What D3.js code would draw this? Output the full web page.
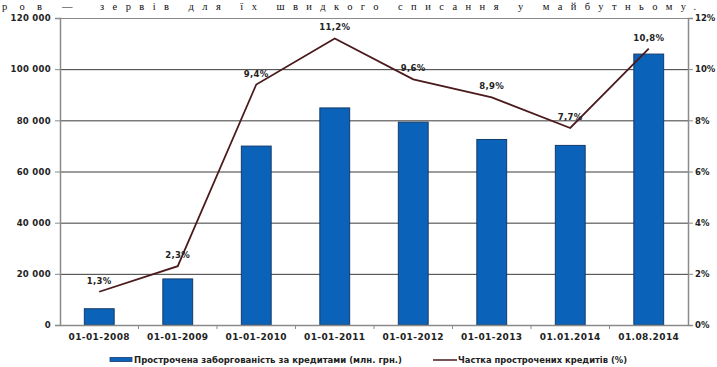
<!DOCTYPE html>
<html><head><meta charset="utf-8">
<script src="https://cdn.jsdelivr.net/npm/d3@7"></script>
<style>
html,body{margin:0;padding:0;background:#fff;}
svg{display:block;}
text{font-family:"DejaVu Sans",Verdana,sans-serif;}
</style></head>
<body>
<svg id="c" width="717" height="367"></svg>
<script>
const categories = ["01-01-2008","01-01-2009","01-01-2010","01-01-2011","01-01-2012","01-01-2013","01.01.2014","01.08.2014"];
const overdueValues = [6357, 18015, 69935, 84851, 79292, 72520, 70199, 105900];
const shareValues = [1.3, 2.3, 9.4, 11.2, 9.6, 8.9, 7.7, 10.8];
const shareLabels = ["1,3%","2,3%","9,4%","11,2%","9,6%","8,9%","7,7%","10,8%"];
const leftTicks = [0, 20000, 40000, 60000, 80000, 100000, 120000];
const rightTicks = [0, 2, 4, 6, 8, 10, 12];
const legendBar = "Прострочена заборгованість за кредитами (млн. грн.)";
const legendLine = "Частка прострочених кредитів (%)";

const svg = d3.select("#c");
const L = 60, R = 688, T = 18, B = 325;

// heading text from the page above the chart
const head = svg.append("g").attr("fill","#111");
head.append("text").attr("x",2).attr("y",10).attr("font-size",10.5).style("font-family","Liberation Serif, serif")
  .attr("textLength",40).attr("lengthAdjust","spacing").text("ров");
head.append("text").attr("x",62).attr("y",10).attr("font-size",10.5).style("font-family","Liberation Serif, serif").text("—");
head.append("text").attr("x",100).attr("y",10).attr("font-size",10.5).style("font-family","Liberation Serif, serif")
  .attr("textLength",596).attr("lengthAdjust","spacing").text("зервів для їх швидкого списання у майбутньому.");

const x = d3.scaleBand().domain(categories).range([L,R]).paddingInner(0.62).paddingOuter(0.31);
const yL = d3.scaleLinear().domain([0,120000]).range([B,T]);
const yR = d3.scaleLinear().domain([0,12]).range([B,T]);

// gridlines
svg.append("g").selectAll("line").data(leftTicks.filter(d=>d>0)).join("line")
  .attr("x1",L).attr("x2",R).attr("y1",d=>yL(d)+0.5).attr("y2",d=>yL(d)+0.5)
  .attr("stroke",d=>d===120000?"#8a8a8a":"#3a3a3a").attr("stroke-width",1);

const fmt = d => d===0 ? "0" : d3.format(",")(d).replace(/,/g," ");

// left axis
const gl = svg.append("g").attr("transform",`translate(${L},0)`)
  .call(d3.axisLeft(yL).tickValues(leftTicks).tickFormat(fmt).tickSize(5).tickPadding(4));
gl.select(".domain").attr("stroke","#8a8a8a").attr("stroke-width",1.5);
gl.selectAll(".tick line").attr("stroke","#8a8a8a");
gl.selectAll(".tick text").attr("font-size",8.5).attr("font-weight","bold").attr("fill","#222").attr("letter-spacing",0.3).style("font-family","DejaVu Sans, sans-serif");

// right axis
const gr = svg.append("g").attr("transform",`translate(${R},0)`)
  .call(d3.axisRight(yR).tickValues(rightTicks).tickFormat(d=>d+"%").tickSize(5).tickPadding(2));
gr.select(".domain").attr("stroke","#8a8a8a").attr("stroke-width",1.5);
gr.selectAll(".tick line").attr("stroke","#8a8a8a");
gr.selectAll(".tick text").attr("font-size",8.5).attr("font-weight","bold").attr("fill","#222").style("font-family","DejaVu Sans, sans-serif");

// bars
svg.append("g").selectAll("rect").data(categories).join("rect")
  .attr("x",d=>x(d)).attr("width",x.bandwidth())
  .attr("y",(d,i)=>yL(overdueValues[i])).attr("height",(d,i)=>B-yL(overdueValues[i]))
  .attr("fill","#0a63b8").attr("stroke","#143a6b").attr("stroke-width",1);

// bottom axis
const step = x.step();
const gb = svg.append("g").attr("transform",`translate(0,${B})`)
  .call(d3.axisBottom(x).tickSize(0).tickPadding(9));
gb.select(".domain").attr("stroke","#8a8a8a").attr("stroke-width",1.5);
gb.selectAll(".tick text").attr("font-size",9).attr("font-weight","bold").attr("fill","#222")
  .attr("letter-spacing",0.4).style("font-family","DejaVu Sans, sans-serif");
// category separators
svg.append("g").selectAll("line").data(categories.slice(1)).join("line")
  .attr("x1",d=>x(d)-(step-x.bandwidth())/2).attr("x2",d=>x(d)-(step-x.bandwidth())/2)
  .attr("y1",B).attr("y2",B+4).attr("stroke","#8a8a8a");

// line
const cx = d => x(d)+x.bandwidth()/2;
const line = d3.line().x((d,i)=>cx(categories[i])).y(d=>yR(d));
svg.append("path").datum(shareValues).attr("d",line)
  .attr("fill","none").attr("stroke","#4a1a1c").attr("stroke-width",1.8);

// data labels
svg.append("g").selectAll("text").data(shareLabels).join("text")
  .attr("x",(d,i)=>cx(categories[i])).attr("y",(d,i)=>yR(shareValues[i])-8)
  .attr("text-anchor","middle").attr("font-size",8.5).attr("font-weight","bold").attr("fill","#222")
  .attr("letter-spacing",0.3).style("font-family","DejaVu Sans, sans-serif")
  .text(d=>d);

// legend
const lg = svg.append("g");
lg.append("rect").attr("x",110).attr("y",357.5).attr("width",22).attr("height",4).attr("fill","#0a63b8").attr("stroke","#143a6b").attr("stroke-width",0.8);
lg.append("text").attr("x",134).attr("y",363).attr("font-size",8).attr("font-weight","bold").attr("fill","#222")
  .attr("textLength",268).attr("lengthAdjust","spacingAndGlyphs").style("font-family","DejaVu Sans, sans-serif").text(legendBar);
lg.append("line").attr("x1",433).attr("x2",457).attr("y1",360).attr("y2",360).attr("stroke","#4a1a1c").attr("stroke-width",1.5);
lg.append("text").attr("x",458).attr("y",363).attr("font-size",8).attr("font-weight","bold").attr("fill","#222")
  .attr("textLength",169).attr("lengthAdjust","spacingAndGlyphs").style("font-family","DejaVu Sans, sans-serif").text(legendLine);
</script>
</body></html>
